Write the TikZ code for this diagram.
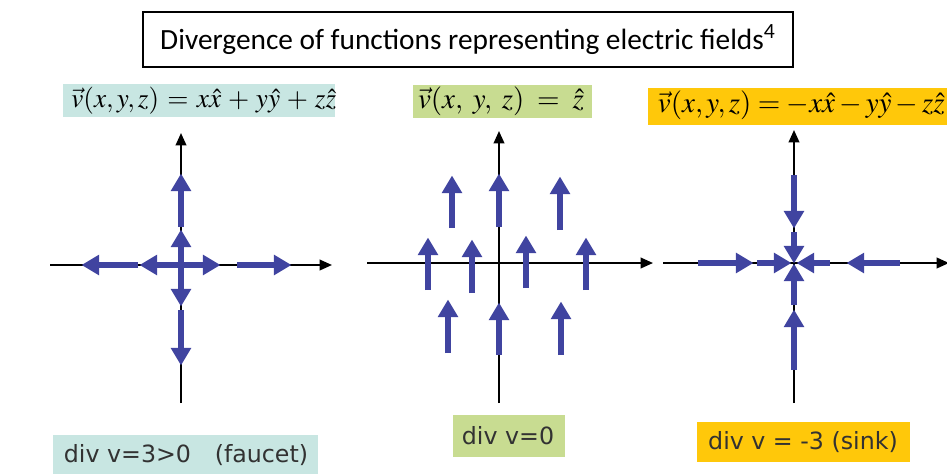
\documentclass[tikz,border=0pt]{standalone}
\usepackage{mathptmx}
\usepackage{fontspec}
\setmainfont{Carlito}
\newfontfamily\labfont{DejaVu Sans}
\usetikzlibrary{arrows.meta}
\definecolor{fblue}{RGB}{64,68,160}
\definecolor{bcyan}{RGB}{200,230,226}
\definecolor{bgreen}{RGB}{200,220,145}
\definecolor{byellow}{RGB}{255,200,10}
\definecolor{ltext}{RGB}{50,50,50}
\tikzset{
  axis/.style={line width=1.1pt,black,-{Triangle[length=7pt,width=6pt]}},
  fld/.style={line width=2.9pt,fblue,-{Triangle[length=10pt,width=11pt]},shorten >=-2pt},
  formula/.style={inner sep=0pt},
  divlab/.style={inner sep=0pt,text=ltext,font=\labfont\fontsize{13.5}{15}\selectfont},
}
\begin{document}
\begin{tikzpicture}[x=0.02cm,y=-0.02cm]
\useasboundingbox (0,0) rectangle (947,474);
\fill[white] (0,0) rectangle (947,474);
% title
\node[draw=black,line width=0.9pt,minimum width=650*0.02cm,minimum height=55*0.02cm,
  font=\fontsize{16.7}{19}\selectfont] (title) at (468,39.5)
  {Divergence of functions representing electric fields\textsuperscript{4}};
% formula boxes
\fill[bcyan] (63,84) rectangle (335,117);
\node[formula,anchor=west,font=\fontsize{15.5}{17}\selectfont] (f1) at (71,101)
  {$\medmuskip=4.5mu\thickmuskip=5.5mu\vec{v}(x,y,z)=x\hat{x}+y\hat{y}+z\hat{z}$};
\fill[bgreen] (413,85) rectangle (592,118);
\node[formula,font=\fontsize{16.5}{18}\selectfont] (f2) at (501,101)
  {$\vec{v}(x,\;y,\;z)\;=\;\hat{z}$};
\fill[byellow] (648,88) rectangle (947,125);
\node[formula,anchor=east,font=\fontsize{16.5}{18}\selectfont] (f3) at (945,105)
  {$\vec{v}(x,y,z)=-x\hat{x}-y\hat{y}-z\hat{z}$};
% bottom labels
\fill[bcyan] (53,435) rectangle (318,474);
\node[divlab] (d1) at (186,455) {div v=3>0\hspace{1em}(faucet)};
\fill[bgreen] (453,415) rectangle (565,457);
\node[divlab] (d2) at (508,436) {div v=0};
\fill[byellow] (697,422) rectangle (910,462);
\node[divlab] (d3) at (803,442) {div v = -3 (sink)};
% ---------- left panel (source)
\coordinate (o1) at (181,265);
\draw[axis] (50,265) -- (332,265);
\draw[axis] (181,403) -- (181,133);
\draw[fld] (181,227) -- (181,177);
\draw[fld] (181,265) -- (181,233);
\draw[fld] (181,265) -- (181,303);
\draw[fld] (181,310) -- (181,362);
\draw[fld] (138,265) -- (85,265);
\draw[fld] (181,265) -- (143,265);
\draw[fld] (181,265) -- (217,265);
\draw[fld] (237,265) -- (288,265);
% ---------- centre panel (uniform)
\draw[axis] (367,263) -- (653,263);
\draw[axis] (499,403) -- (499,131);
\foreach \x/\t/\h in {452/228/179, 499/227/177, 560/230/180,
                     428/290/241, 472/293/243, 526/288/239, 586/290/241,
                     448/353/303, 499/355/306, 561/355/305}
  \draw[fld] (\x,\t) -- (\x,\h);
% ---------- right panel (sink)
\draw[axis] (663,263) -- (949,263);
\draw[axis] (794,403) -- (794,130);
\draw[fld] (794,175) -- (794,225);
\draw[fld] (794,232) -- (794,260);
\draw[fld] (794,370) -- (794,313);
\draw[fld] (794,305) -- (794,267);
\draw[fld] (698,263) -- (750,263);
\draw[fld] (757,263) -- (788,263);
\draw[fld] (900,263) -- (850,263);
\draw[fld] (830,263) -- (800,263);
\end{tikzpicture}
\end{document}
